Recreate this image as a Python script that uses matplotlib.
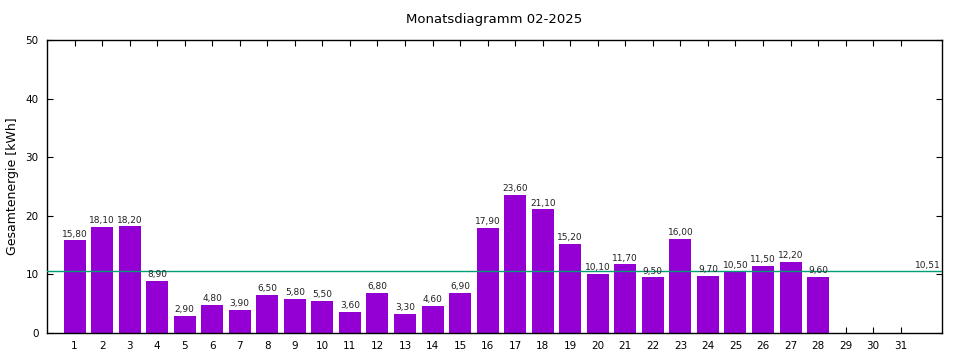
import matplotlib
matplotlib.use("Agg")
import matplotlib.pyplot as plt

days = list(range(1, 32))
values = [15.8, 18.1, 18.2, 8.9, 2.9, 4.8, 3.9, 6.5, 5.8, 5.5, 3.6, 6.8, 3.3, 4.6, 6.9,
          17.9, 23.6, 21.1, 15.2, 10.1, 11.7, 9.5, 16.0, 9.7, 10.5, 11.5, 12.2, 9.6]
average = 10.51
title = "Monatsdiagramm 02-2025"
ylabel = "Gesamtenergie [kWh]"

fig = plt.figure(figsize=(9.6, 3.6), dpi=100)
ax = fig.add_axes([47/960, 1-333/360, (942-47)/960, (333-40)/360])

x = days[:len(values)]
bars = ax.bar(x, values, width=0.8, color="#9400D3", zorder=2)
for xi, v in zip(x, values):
    ax.text(xi, v + 0.3, f"{v:.2f}".replace(".", ","), ha="center", va="bottom",
            fontsize=6.5, color="#222222", zorder=4)

ax.axhline(average, color="#009E73", lw=1.0, zorder=3)
ax.text(32.45, average + 0.3, f"{average:.2f}".replace(".", ","), ha="right", va="bottom",
        fontsize=6.5, color="#222222")

ax.set_xlim(0, 32.5)
ax.set_ylim(0, 50)
ax.set_xticks(days)
ax.set_xticklabels([str(d) for d in days])
ax.set_yticks([0, 10, 20, 30, 40, 50])
ax.tick_params(direction="in", top=True, right=True, length=4, width=0.8,
               labelsize=7.5, pad=6)
for s in ax.spines.values():
    s.set_linewidth(1.0)
ax.set_title(title, fontsize=9.5, pad=12)
ax.set_ylabel(ylabel, fontsize=9, labelpad=5)

fig.savefig("out.png", dpi=100)
